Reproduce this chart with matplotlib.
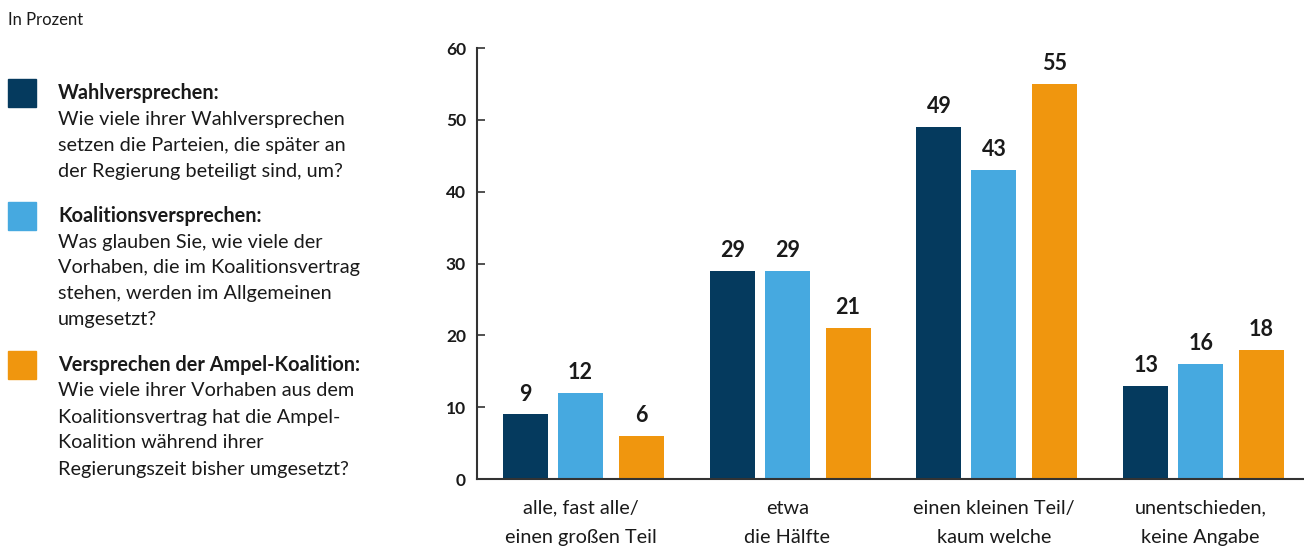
import numpy as np
import matplotlib.pyplot as plt
import matplotlib.patches as mpatches

plt.rcParams['font.family'] = ['Lato', 'DejaVu Sans']

# Data
categories = ['alle, fast alle/\neinen großen Teil', 'etwa\ndie Hälfte',
              'einen kleinen Teil/\nkaum welche', 'unentschieden,\nkeine Angabe']
wahl = [9, 29, 49, 13]
koalition = [12, 29, 43, 16]
ampel = [6, 21, 55, 18]

series_titles = ['Wahlversprechen:', 'Koalitionsversprechen:',
                 'Versprechen der Ampel-Koalition:']
series_texts = [['Wie viele ihrer Wahlversprechen', 'setzen die Parteien, die später an',
                 'der Regierung beteiligt sind, um?'],
                ['Was glauben Sie, wie viele der', 'Vorhaben, die im Koalitionsvertrag',
                 'stehen, werden im Allgemeinen', 'umgesetzt?'],
                ['Wie viele ihrer Vorhaben aus dem', 'Koalitionsvertrag hat die Ampel-',
                 'Koalition während ihrer', 'Regierungszeit bisher umgesetzt?']]
colors = ['#053a5e', '#46a9e0', '#f0960e']
text_color = '#1a1a1a'

fig = plt.figure(figsize=(13.04, 5.48), dpi=100)
ax = fig.add_axes([0.3658, 0.1259, 0.6342, 0.7865])

x = np.arange(len(categories))
width = 0.2174
offsets = [-0.2657, 0.0, 0.2947]
for vals, off, c in zip([wahl, koalition, ampel], offsets, colors):
    bars = ax.bar(x + off, vals, width=width, color=c)
    for b, v in zip(bars, vals):
        ax.annotate(str(v), (b.get_x() + b.get_width() / 2, v),
                    xytext=(0, 7), textcoords='offset points',
                    ha='center', va='bottom', fontsize=15.5, fontweight='bold',
                    color=text_color)

ax.set_xlim(-0.5, 3.5)
ax.set_ylim(0, 60)
ax.set_yticks(range(0, 61, 10))
ax.set_xticks(x)
ax.set_xticklabels(categories, fontsize=14.3, color=text_color, linespacing=1.85)
ax.tick_params(axis='x', length=0, pad=15)
ax.tick_params(axis='y', direction='in', length=6, width=1.2, colors='#333333',
               labelsize=12.5, labelcolor=text_color, pad=8)
for lab in ax.get_yticklabels():
    lab.set_fontweight('bold')
for s in ['top', 'right']:
    ax.spines[s].set_visible(False)
for s in ['left', 'bottom']:
    ax.spines[s].set_linewidth(1.5)
    ax.spines[s].set_color('#333333')

# Left side texts
fig.text(8 / 1304, 1 - 20 / 548, 'In Prozent', fontsize=12, color=text_color,
         va='center', ha='left')

square_tops = [79, 202, 351]
for top, title, lines, c in zip(square_tops, series_titles, series_texts, colors):
    fig.patches.append(mpatches.Rectangle((8 / 1304, 1 - (top + 28) / 548),
                                          28 / 1304, 28 / 548, color=c,
                                          transform=fig.transFigure))
    fig.text(58 / 1304, 1 - (top + 14) / 548, title, fontsize=14.3,
             fontweight='bold', color=text_color, va='center', ha='left')
    for k, line in enumerate(lines):
        fig.text(58 / 1304, 1 - (top + 14 + 26 * (k + 1)) / 548, line,
                 fontsize=14.3, color=text_color, va='center', ha='left')

plt.savefig('out.png', dpi=100)
